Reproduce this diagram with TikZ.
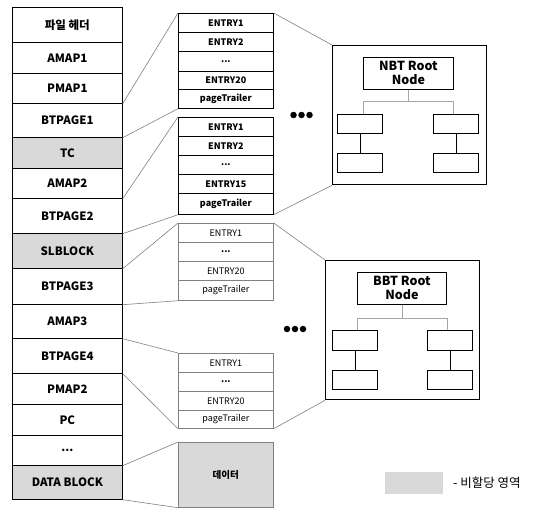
\documentclass[tikz,border=0pt]{standalone}
\usepackage{fontspec}
\setmainfont{Noto Sans CJK KR}
\definecolor{unalloc}{HTML}{D9D9D9}
\definecolor{linkgray}{HTML}{808080}
\newcommand\mydots{\textbf{...}}
\begin{document}
\begin{tikzpicture}[x=1pt,y=-1pt,
  cell/.style={draw=black, line width=0.7pt, inner sep=0, anchor=north west,
    minimum width=110pt, font=\bfseries\fontsize{11.5}{13}\selectfont},
  tcell/.style={draw=black, line width=0.7pt, inner sep=0, anchor=north west,
    minimum width=95pt, font=\bfseries\fontsize{9}{10}\selectfont},
  lcell/.style={draw=linkgray, line width=0.7pt, inner sep=0, anchor=north west,
    minimum width=95pt, font=\fontsize{9}{10}\selectfont},
  link/.style={draw=linkgray, line width=0.6pt},
  bigbox/.style={draw=black, line width=1.3pt, inner sep=0, anchor=north west},
  tbox/.style={draw=black, line width=0.8pt, inner sep=0, anchor=north west, align=center,
    font=\bfseries\fontsize{12.5}{14}\selectfont},
  leaf/.style={draw=black, line width=0.8pt, inner sep=0, anchor=north west,
    minimum width=45pt, minimum height=19pt},
  elbow/.style={draw=linkgray!70, line width=0.7pt},
  stem/.style={draw=black, line width=0.8pt},
  dot/.style={circle, fill=black, inner sep=0, minimum size=6.5pt}
]
\useasboundingbox (0,0) rectangle (541,511);
% left column
\foreach \t/\b/\lab/\f [count=\i] in {
  7/42/파일 헤더/white, 42/73/AMAP1/white, 73/103/PMAP1/white, 103/137/BTPAGE1/white,
  137/168/TC/unalloc, 168/198/AMAP2/white, 198/233/BTPAGE2/white, 233/268/SLBLOCK/unalloc,
  268/304/BTPAGE3/white, 304/338/AMAP3/white, 338/373/BTPAGE4/white, 373/404/PMAP2/white,
  404/435/PC/white, 435/465/\mydots/white, 465/499/DATA BLOCK/unalloc}
  \node[cell, fill=\f, minimum height={\b pt-\t pt}] (L\i) at (12,\t) {\lab};
% table 1
\foreach \t/\b/\lab [count=\i] in {13/32/ENTRY1, 32/51/ENTRY2, 51/71/\mydots, 71/89/ENTRY20, 89/108/pageTrailer}
  \node[tcell, minimum height={\b pt-\t pt}] (A\i) at (178,\t) {\lab};
% table 2
\foreach \t/\b/\lab [count=\i] in {117/136/ENTRY1, 136/155/ENTRY2, 155/174/\mydots, 174/193/ENTRY15, 193/214/pageTrailer}
  \node[tcell, minimum height={\b pt-\t pt}] (B\i) at (178,\t) {\lab};
% table 3
\foreach \t/\b/\lab [count=\i] in {223/242/ENTRY1, 242/261/\mydots, 261/280/ENTRY20, 280/300/pageTrailer}
  \node[lcell, minimum height={\b pt-\t pt}] (C\i) at (178,\t) {\lab};
% table 4
\foreach \t/\b/\lab [count=\i] in {353/372/ENTRY1, 372/391/\mydots, 391/410/ENTRY20, 410/428/pageTrailer}
  \node[lcell, minimum height={\b pt-\t pt}] (D\i) at (178,\t) {\lab};
% data
\node[tcell, fill=unalloc, draw=linkgray, minimum height=65pt, font=\bfseries\fontsize{9.5}{11}\selectfont] (data) at (178,442) {데이터};
% links left -> tables
\draw[link] (L3.south east) -- (A1.north west);
\draw[link] (L4.south east) -- (A5.south west);
\draw[link] (L6.south east) -- (B1.north west);
\draw[link] (L7.south east) -- (B5.south west);
\draw[link] (L8.south east) -- (C1.north west);
\draw[link] (L9.south east) -- (C4.south west);
\draw[link] (L10.south east) -- (D1.north west);
\draw[link] (L11.south east) -- (D4.south west);
\draw[link] (L14.south east) -- (data.north west);
\draw[link] (L15.south east) -- (data.south west);
% NBT box
\node[bigbox, minimum width=154pt, minimum height=139pt] (nbt) at (332,45) {};
\node[tbox, minimum width=90pt, minimum height=32pt] (nroot) at (363,57) {NBT Root\\Node};
\node[leaf] (n1) at (337,114) {};
\node[leaf] (n2) at (433,114) {};
\node[leaf] (n3) at (337,153) {};
\node[leaf] (n4) at (433,153) {};
\coordinate (nl) at (363,114);
\coordinate (nr) at (453,114);
\draw[elbow] (nroot.south) -- ++(0,12) -| (nl);
\draw[elbow] (nroot.south) ++(0,12) -| (nr);
\draw[stem] (n1.south) -- (n3.north);
\draw[stem] (n2.south) -- (n4.north);
% BBT box
\node[bigbox, minimum width=154pt, minimum height=139pt] (bbt) at (325,260) {};
\node[tbox, minimum width=89pt, minimum height=32pt] (broot) at (357,272) {BBT Root\\Node};
\node[leaf, minimum height=20pt] (b1) at (332,330) {};
\node[leaf, minimum height=20pt] (b2) at (427,330) {};
\node[leaf] (b3) at (332,370) {};
\node[leaf] (b4) at (427,370) {};
\coordinate (bl) at (357,330);
\coordinate (br) at (447,330);
\draw[elbow] (broot.south) -- ++(0,14) -| (bl);
\draw[elbow] (broot.south) ++(0,14) -| (br);
\draw[stem] (b1.south) -- (b3.north);
\draw[stem] (b2.south) -- (b4.north);
% links tables -> boxes
\draw[link] (A1.north east) -- (nbt.north west);
\draw[link] (B5.south east) -- (nbt.south west);
\draw[link] (C1.north east) -- (bbt.north west);
\draw[link] (D4.south east) -- (bbt.south west);
% ellipsis dots
\node[dot] (e1) at (293.5,115) {};
\node[dot] (e2) at (301.5,115) {};
\node[dot] (e3) at (309.5,115) {};
\node[dot] (f1) at (287,329) {};
\node[dot] (f2) at (295,329) {};
\node[dot] (f3) at (303,329) {};
% legend
\node[fill=unalloc, inner sep=0, anchor=north west, minimum width=58pt, minimum height=22pt] (legbox) at (385,472) {};
\node[anchor=west, inner sep=0, font=\fontsize{12.5}{14}\selectfont] (legtext) at (453,483) {- 비할당 영역};
\end{tikzpicture}
\end{document}
